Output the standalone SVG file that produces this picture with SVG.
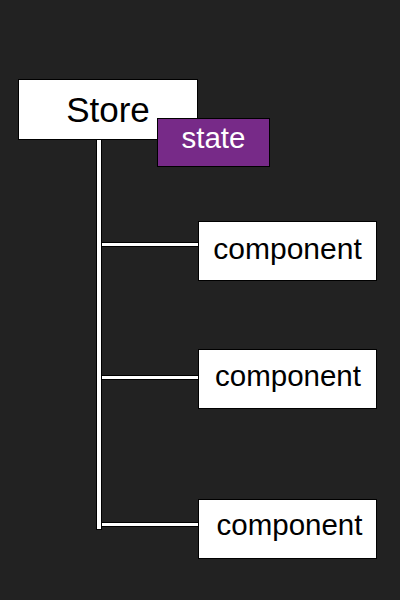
<svg xmlns="http://www.w3.org/2000/svg" width="400" height="600" viewBox="0 0 400 600">
<style>
.box{fill:#fff;stroke:#000;stroke-width:1}
.wire{fill:#fff;stroke:#000;stroke-width:1}
.t{font-family:"Liberation Sans",Arial,sans-serif;text-anchor:middle;fill:#000}
</style>
<rect width="400" height="600" fill="#222"/>
<g id="connectors">
<rect class="wire" x="96.5" y="138.5" width="5" height="391"/>
<rect class="wire" x="101.5" y="242.5" width="97" height="4"/>
<rect class="wire" x="101.5" y="375.5" width="97" height="4"/>
<rect class="wire" x="101.5" y="522.5" width="97" height="4"/>
</g>
<g id="store">
<rect class="box" x="18.5" y="79.5" width="179" height="60"/>
<text class="t" x="108" y="122" font-size="35">Store</text>
</g>
<g id="state">
<rect x="157.5" y="118.5" width="112" height="48" fill="#772a88" stroke="#000"/>
<text class="t" x="213.5" y="148" font-size="29.5" style="fill:#fff">state</text>
</g>
<g id="component1">
<rect class="box" x="198.5" y="221.5" width="178" height="59"/>
<text class="t" x="287.5" y="259" font-size="30">component</text>
</g>
<g id="component2">
<rect class="box" x="198.5" y="349.5" width="178" height="59"/>
<text class="t" x="288" y="386" font-size="29.5">component</text>
</g>
<g id="component3">
<rect class="box" x="198.5" y="499.5" width="178" height="59"/>
<text class="t" x="289.5" y="535" font-size="29.5">component</text>
</g>
</svg>
